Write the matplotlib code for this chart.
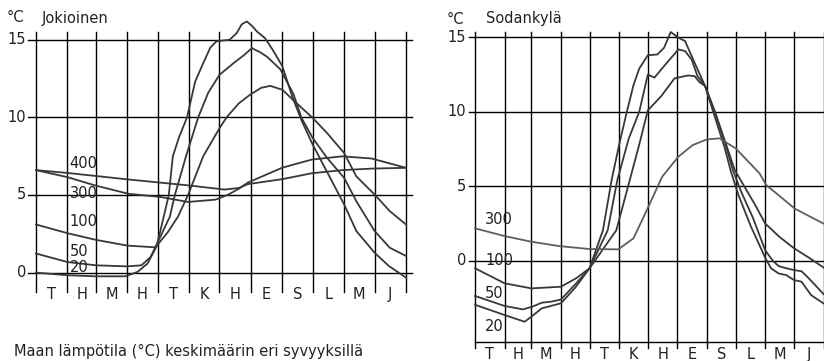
import numpy as np
import matplotlib
matplotlib.use('Agg')
import matplotlib.pyplot as plt

# Finnish month initials and month lengths (days)
months = ['T', 'H', 'M', 'H', 'T', 'K', 'H', 'E', 'S', 'L', 'M', 'J']
month_len = [31, 28, 31, 30, 31, 30, 31, 31, 30, 31, 30, 31]
yticks = [0, 5, 10, 15]

# Jokioinen: soil temperature (°C) by day of year, depths in cm
jok_20_day = [0, 31, 59, 88, 100, 110, 119, 126, 131, 135, 141, 149, 157, 165, 172, 178,
              191, 198, 203, 208, 213, 218, 226, 234, 243, 253, 262, 273, 287, 304, 316,
              334, 348, 365]
jok_20_temp = [0.0, -0.17, -0.24, -0.24, 0.04, 0.58, 1.7, 3.6, 5.0, 7.5, 8.7, 10.0, 12.3,
               13.5, 14.5, 14.9, 15.0, 15.43, 16.0, 16.18, 15.9, 15.53, 15.1, 14.3, 13.3,
               11.3, 9.8, 8.24, 6.5, 4.39, 2.68, 1.28, 0.43, -0.32]

jok_50_day = [0, 31, 59, 90, 104, 113, 119, 132, 137, 148, 160, 170, 181, 195, 205, 213,
              221, 228, 241, 254, 262, 273, 287, 304, 316, 334, 349, 365]
jok_50_temp = [1.23, 0.68, 0.47, 0.4, 0.47, 1.0, 1.8, 3.6, 5.0, 7.5, 10.0, 11.6, 12.74,
               13.5, 14.0, 14.46, 14.2, 13.9, 13.1, 11.5, 9.96, 8.67, 7.4, 6.1, 4.6, 2.68,
               1.6, 1.07]

jok_100_day = [0, 31, 59, 90, 117, 120, 130, 140, 150, 165, 181, 188, 200, 211, 222, 231,
               243, 254, 273, 287, 304, 316, 334, 349, 365]
jok_100_temp = [3.1, 2.54, 2.11, 1.74, 1.63, 1.8, 2.6, 3.6, 5.0, 7.5, 9.3, 10.0, 10.9,
                11.45, 11.9, 12.03, 11.78, 11.1, 9.96, 9.0, 7.7, 6.2, 5.03, 3.96, 3.1]

jok_300_day = [0, 31, 58, 91, 123, 150, 177, 189, 200, 209, 243, 272, 302, 331, 365]
jok_300_temp = [6.6, 6.15, 5.62, 5.08, 4.87, 4.55, 4.7, 5.0, 5.4, 5.8, 6.76, 7.28, 7.49,
                7.35, 6.75]

jok_400_day = [0, 31, 91, 150, 186, 200, 209, 243, 272, 302, 331, 365]
jok_400_temp = [6.6, 6.42, 6.0, 5.62, 5.35, 5.45, 5.7, 6.02, 6.4, 6.6, 6.7, 6.75]

# Sodankylä
sod_20_day = [0, 31, 52, 59, 70, 90, 105, 120, 134, 143, 151, 159, 166, 172, 181, 191,
              198, 205, 213, 220, 230, 241, 251, 261, 268, 276, 289, 304, 310, 318, 326,
              334, 342, 352, 365]
sod_20_temp = [-2.95, -3.64, -4.09, -3.75, -3.19, -2.85, -1.8, -0.5, 2.05, 5.4, 7.8, 10.0,
               11.8, 12.9, 13.8, 13.85, 14.3, 15.36, 14.98, 14.75, 13.3, 11.73, 9.7, 7.7,
               6.0, 4.4, 2.3, 0.2, -0.5, -0.85, -0.96, -1.29, -1.4, -2.3, -2.86]

sod_50_day = [0, 31, 50, 60, 70, 80, 90, 106, 120, 139, 149, 161, 172, 181, 188, 198, 213,
              220, 227, 233, 241, 252, 262, 270, 279, 291, 304, 312, 318, 326, 334, 342,
              350, 365]
sod_50_temp = [-2.36, -3.03, -3.26, -3.08, -2.81, -2.74, -2.6, -1.51, -0.5, 2.05, 5.4, 8.2,
               10.0, 12.5, 12.3, 13.07, 14.19, 14.08, 13.5, 12.4, 11.73, 9.9, 7.9, 6.1, 4.6,
               2.9, 0.7, 0.0, -0.35, -0.5, -0.62, -0.7, -1.2, -2.23]

sod_100_day = [0, 31, 59, 90, 106, 120, 148, 162, 172, 181, 195, 209, 223, 230, 235, 241,
               251, 262, 272, 282, 293, 304, 319, 334, 350, 365]
sod_100_temp = [-0.5, -1.51, -1.85, -1.74, -1.17, -0.5, 2.05, 5.4, 7.8, 10.1, 11.05, 12.25,
                12.44, 12.4, 12.0, 11.73, 10.0, 8.0, 6.1, 5.0, 3.8, 2.5, 1.6, 0.85, 0.2,
                -0.45]

sod_300_day = [0, 31, 59, 88, 120, 150, 166, 180, 196, 213, 228, 243, 256, 273, 298, 305,
               335, 365]
sod_300_temp = [2.18, 1.66, 1.28, 0.99, 0.79, 0.77, 1.51, 3.41, 5.64, 6.99, 7.77, 8.15,
                8.22, 7.55, 5.87, 5.09, 3.5, 2.5]

FONT = 'DejaVu Sans'
FS = 10.5
TXT = '#222222'
LINE = '#383838'

fig = plt.figure(figsize=(8.24, 3.61), dpi=100)
W, H = 824.0, 361.0

edges = np.concatenate([[0], np.cumsum(month_len)])
mids = (edges[:-1] + edges[1:]) / 2


def panel(px_left, px_right, px_top, px_bottom, ymin, ymax):
    ax = fig.add_axes([px_left / W, 1 - px_bottom / H,
                       (px_right - px_left) / W, (px_bottom - px_top) / H])
    ax.set_xlim(0, 365)
    ax.set_ylim(ymin, ymax)
    ax.axis('off')
    return ax


# ---------------- Jokioinen ----------------
ax1 = panel(36, 406, 32, 292, -1.25, 15.5)
for v in yticks:
    ax1.plot([-8, 371], [v, v], color='black', lw=1.0, clip_on=False, zorder=1)
    ax1.text(-9.5, v, str(v), ha='right', va='center', fontsize=FS, family=FONT, color=TXT)
for e in edges:
    ax1.plot([e, e], [-1.25, 15.5], color='black', lw=1.0, clip_on=False, zorder=1)
for m, lab in zip(mids, months):
    ax1.text(m, -1.42, lab, ha='center', va='center', fontsize=FS, family=FONT, color=TXT,
             clip_on=False)

for d, t in [(jok_20_day, jok_20_temp), (jok_50_day, jok_50_temp),
             (jok_100_day, jok_100_temp), (jok_300_day, jok_300_temp),
             (jok_400_day, jok_400_temp)]:
    ax1.plot(d, t, color=LINE, lw=1.3, clip_on=False, zorder=2,
             solid_joinstyle='round')

for lab, yv in [('400', 7.06), ('300', 5.07), ('100', 3.27), ('50', 1.39), ('20', 0.32)]:
    ax1.text(33, yv, lab, ha='left', va='center', fontsize=FS, family=FONT, color=TXT)

# ---------------- Sodankylä ----------------
ax2 = panel(475, 823.5, 31.7, 342, -5.45, 15.38)
for v in yticks:
    ax2.plot([-6.5, 365], [v, v], color='black', lw=1.0, clip_on=False, zorder=1)
    ax2.text(-9.5, v, str(v), ha='right', va='center', fontsize=FS, family=FONT, color=TXT)
ax2.plot([0, 365], [-5.45, -5.45], color='black', lw=1.0, clip_on=False, zorder=1)
for e in edges:
    ax2.plot([e, e], [-5.85, 15.38], color='black', lw=1.0, clip_on=False, zorder=1)
for m, lab in zip(mids, months):
    ax2.text(m, -6.3, lab, ha='center', va='center', fontsize=FS, family=FONT, color=TXT,
             clip_on=False)

for d, t in [(sod_20_day, sod_20_temp), (sod_50_day, sod_50_temp),
             (sod_100_day, sod_100_temp)]:
    ax2.plot(d, t, color=LINE, lw=1.3, clip_on=False, zorder=2, solid_joinstyle='round')
ax2.plot(sod_300_day, sod_300_temp, color='#5e5e5e', lw=1.3, clip_on=False, zorder=2,
         solid_joinstyle='round')

for lab, yv in [('300', 2.79), ('100', 0.0), ('50', -2.18), ('20', -4.42)]:
    ax2.text(10.5, yv, lab, ha='left', va='center', fontsize=FS, family=FONT, color=TXT)

# titles
fig.text(7 / W, 1 - 18 / H, '°C', ha='left', va='center', fontsize=FS, family=FONT, color=TXT)
fig.text(42 / W, 1 - 18 / H, 'Jokioinen', ha='left', va='center', fontsize=FS, family=FONT,
         color=TXT)
fig.text(447 / W, 1 - 19 / H, '°C', ha='left', va='center', fontsize=FS, family=FONT, color=TXT)
fig.text(486 / W, 1 - 19 / H, 'Sodankylä', ha='left', va='center', fontsize=FS, family=FONT,
         color=TXT)

# caption at the bottom left (kept fully inside the picture)
fig.text(14 / W, 5 / H, 'Maan lämpötila (°C) keskimäärin eri syvyyksillä',
         ha='left', va='baseline', fontsize=FS, family=FONT, color=TXT)

fig.savefig('out.png', dpi=100)
